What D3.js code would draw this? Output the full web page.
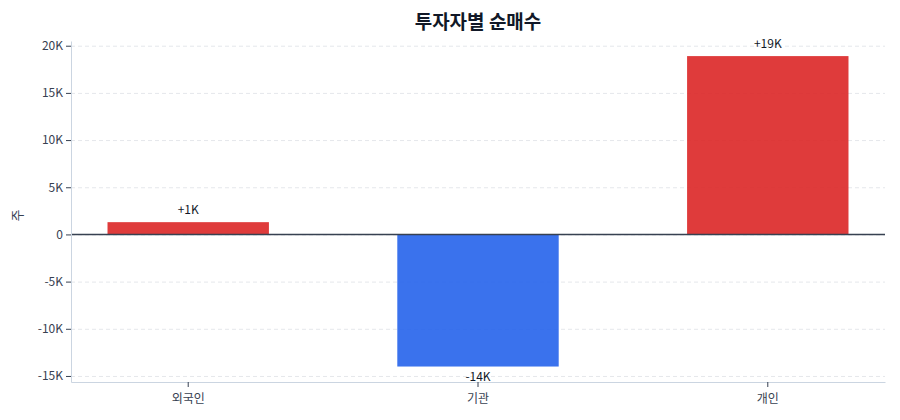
<!DOCTYPE html>
<html>
<head>
<meta charset="utf-8">
<script src="https://cdn.jsdelivr.net/npm/d3@7"></script>
<style>
  body { margin: 0; background: #fff; font-family: "Noto Sans CJK KR", "Noto Sans", sans-serif; }
  .axis text { font-size: 12px; fill: #374151; font-family: "Noto Sans CJK KR", "Noto Sans", sans-serif; }
  .axis path { stroke: #cbd5e1; }
  .axis line { stroke: #374151; }
  .grid line { stroke: #e5e7eb; stroke-dasharray: 4,3; }
  .grid path { display: none; }
</style>
</head>
<body>
<div id="chart"></div>
<script>
const categories = ["외국인", "기관", "개인"];
const values = [1300, -14000, 18900];
const valueLabels = ["+1K", "-14K", "+19K"];
const yTicks = [-15000, -10000, -5000, 0, 5000, 10000, 15000, 20000];
const yTickLabels = ["-15K", "-10K", "-5K", "0", "5K", "10K", "15K", "20K"];

const W = 900, H = 420;
const margin = { top: 41, right: 15, bottom: 38, left: 71 };
const width = W - margin.left - margin.right;
const height = H - margin.top - margin.bottom;

const svg = d3.select("#chart").append("svg")
  .attr("width", W).attr("height", H);

svg.append("text")
  .attr("x", margin.left + width / 2)
  .attr("y", 29)
  .attr("text-anchor", "middle")
  .style("font-size", "19px")
  .style("font-weight", "bold")
  .style("fill", "#111827")
  .text("투자자별 순매수");

const x = d3.scaleBand().domain(categories).range([0, width])
  .paddingInner(0.443).paddingOuter(0.126);
const y = d3.scaleLinear().domain([-15640, 20500]).range([height, 0]);

const chart = svg.append("g").attr("transform", `translate(${margin.left},${margin.top})`);

chart.append("g").attr("class", "grid")
  .call(d3.axisLeft(y).tickValues(yTicks).tickSize(-width).tickFormat(""));

chart.selectAll(".bar")
  .data(values)
  .enter().append("rect")
  .attr("class", "bar")
  .attr("x", (d, i) => x(categories[i]))
  .attr("width", x.bandwidth())
  .attr("y", d => y(Math.max(0, d)))
  .attr("height", d => Math.abs(y(d) - y(0)))
  .attr("fill", d => d >= 0 ? "#dc2626" : "#2563eb")
  .attr("fill-opacity", 0.9);

chart.selectAll(".vlabel")
  .data(values)
  .enter().append("text")
  .attr("class", "vlabel")
  .attr("x", (d, i) => x(categories[i]) + x.bandwidth() / 2)
  .attr("y", d => d >= 0 ? y(d) - 8 : y(d) + 14)
  .attr("text-anchor", "middle")
  .style("font-size", "12px")
  .style("fill", "#111827")
  .text((d, i) => valueLabels[i]);

chart.append("line")
  .attr("x1", 0).attr("x2", width)
  .attr("y1", y(0)).attr("y2", y(0))
  .attr("stroke", "#374151").attr("stroke-width", 1.5);

const yAxis = chart.append("g").attr("class", "axis")
  .call(d3.axisLeft(y).tickValues(yTicks).tickSize(5).tickSizeOuter(0)
    .tickFormat((d, i) => yTickLabels[i]));

const xAxis = chart.append("g").attr("class", "axis")
  .attr("transform", `translate(0,${height})`)
  .call(d3.axisBottom(x).tickSize(5).tickSizeOuter(0));
xAxis.selectAll("text").attr("dy", "1.1em");

svg.append("text")
  .attr("transform", `translate(22,${margin.top + y(2000)}) rotate(-90)`)
  .attr("text-anchor", "middle")
  .style("font-size", "13px")
  .style("fill", "#374151")
  .text("주");
</script>
</body>
</html>
